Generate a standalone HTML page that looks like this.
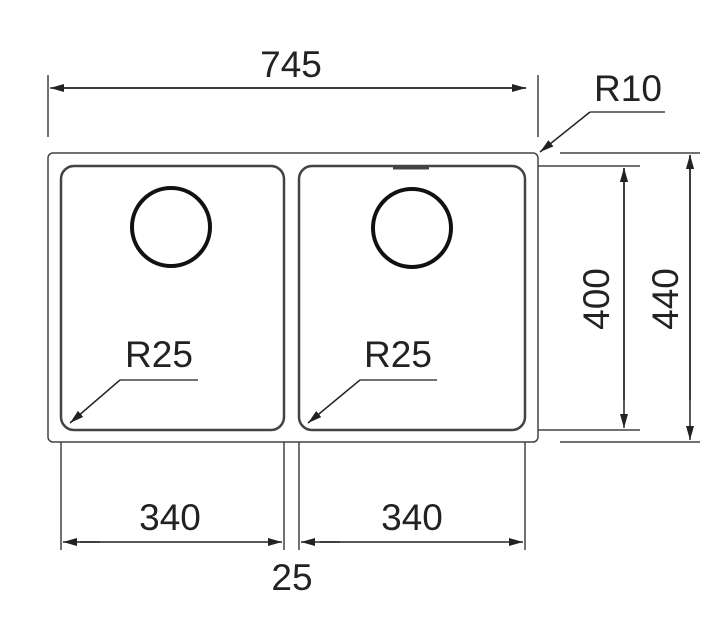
<!DOCTYPE html>
<html><head><style>body{margin:0;background:#fff}</style></head><body>
<svg width="718" height="617" xmlns="http://www.w3.org/2000/svg" font-family="Liberation Sans, sans-serif" font-size="37" fill="#222">
<defs><marker id="a" markerWidth="14" markerHeight="8" refX="14" refY="4" orient="auto" markerUnits="userSpaceOnUse"><path d="M0,0L14,4L0,8z" fill="#222"/></marker></defs>
<g fill="none" stroke="#444" stroke-width="1.5">
<rect x="48" y="153" width="490" height="289" rx="5"/>
<rect x="61" y="166" width="223" height="264" rx="13" stroke-width="2.5"/>
<rect x="299" y="166" width="226" height="264" rx="13" stroke-width="2.5"/>
<path d="M393,168h36" stroke-width="3"/>
<circle cx="171" cy="227" r="39" stroke="#111" stroke-width="4"/>
<circle cx="412" cy="228" r="39" stroke="#111" stroke-width="4"/>
<path d="M48,75v62M538,75v62M61,442v108M284,442v108M299,442v108M525,442v108"/>
<path d="M538,166h102M538,430h102M560,153h140M560,442h140"/>
<path d="M590,112h75"/>
<path d="M120,380h78M360,380h77"/>
</g>
<g stroke="#222" stroke-width="1.5" fill="none">
<path d="M60,88H526" marker-end="url(#a)"/><path d="M526,88H50" marker-end="url(#a)"/>
<path d="M624,180V168" marker-end="url(#a)"/><path d="M624,170V428" marker-end="url(#a)"/><path d="M624,400V168" marker-end="url(#a)"/>
<path d="M690,170V155" marker-end="url(#a)"/><path d="M690,165V440" marker-end="url(#a)"/><path d="M690,400V155" marker-end="url(#a)"/>
<path d="M100,542H63" marker-end="url(#a)"/><path d="M80,542H282" marker-end="url(#a)"/>
<path d="M340,542H301" marker-end="url(#a)"/><path d="M320,542H523" marker-end="url(#a)"/>
<path d="M590,112L540,152" marker-end="url(#a)"/>
<path d="M120,380L70,423" marker-end="url(#a)"/>
<path d="M360,380L308,423" marker-end="url(#a)"/>
</g>
<text x="291" y="77" text-anchor="middle">745</text>
<text x="628" y="101" text-anchor="middle">R10</text>
<text x="159" y="367" text-anchor="middle">R25</text>
<text x="398" y="367" text-anchor="middle">R25</text>
<text x="170" y="530" text-anchor="middle">340</text>
<text x="412" y="530" text-anchor="middle">340</text>
<text x="292" y="590" text-anchor="middle">25</text>
<text transform="translate(609,299) rotate(-90)" text-anchor="middle">400</text>
<text transform="translate(678,299) rotate(-90)" text-anchor="middle">440</text>
</svg>
</body></html>
